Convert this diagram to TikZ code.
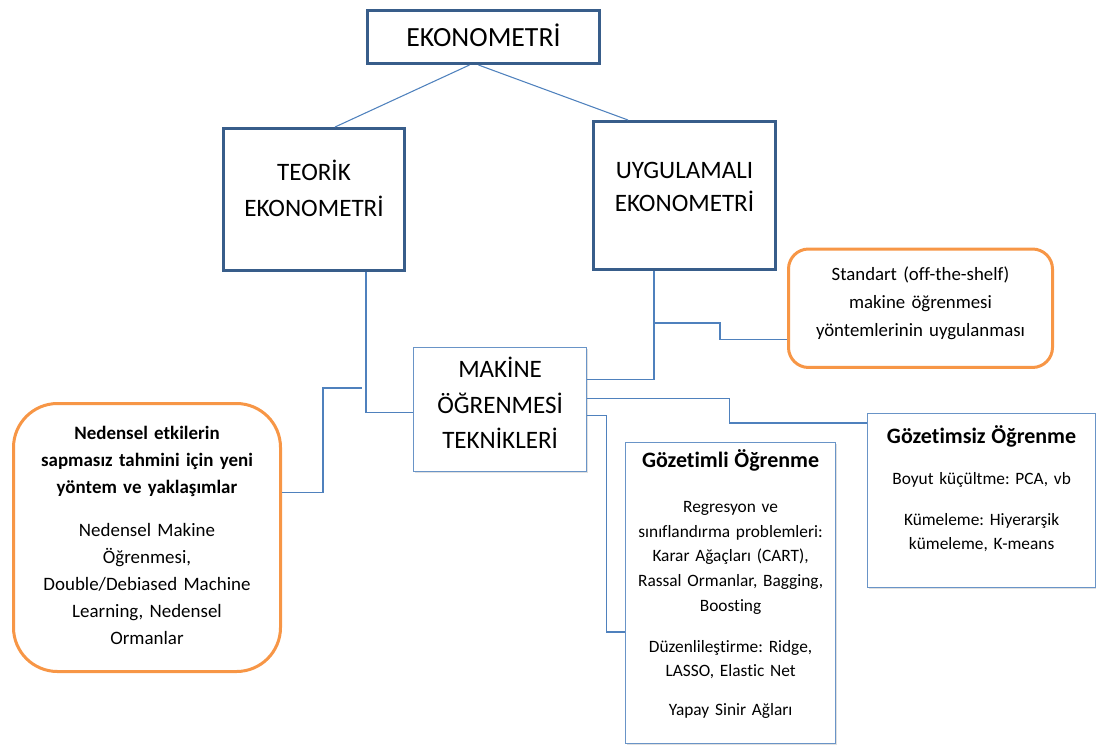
\documentclass[tikz,border=0pt]{standalone}
\usepackage{fontspec}
\setmainfont{Carlito}[Ligatures={TeX,NoCommon}]
\usetikzlibrary{calc,shadows}
\definecolor{koyumavi}{RGB}{56,93,138}
\definecolor{acikmavi}{RGB}{79,129,189}
\definecolor{turuncu}{RGB}{247,150,70}
\newcommand{\baslik}{\bfseries\fontsize{16.5}{20}\selectfont}
\frenchspacing

\begin{document}
\begin{tikzpicture}[
		x=0.75pt, y=-0.75pt,
		anakutu/.style={rectangle, draw=koyumavi, line width=2.25pt, fill=white,
				inner sep=0pt, align=center, anchor=north west},
		incekutu/.style={rectangle, draw=acikmavi!85, line width=0.9pt, fill=white,
				inner sep=0pt, align=center, anchor=north west,
				drop shadow={shadow xshift=1pt, shadow yshift=-1.2pt, fill=black!30, opacity=0.4}},
		notkutu/.style={rectangle, draw=turuncu, line width=2.25pt, fill=white,
				inner sep=0pt, align=center, anchor=north west},
		hat/.style={draw=acikmavi, line width=0.8pt},
		]
		\useasboundingbox (0,0) rectangle (1096,744);

		% Kutular
		\node[anakutu, text width=174pt, text height=27pt, text depth=12.75pt,
			font=\fontsize{20.8}{25}\selectfont] (ekon) at (366,9) {EKONOMETRİ};
		\node[anakutu, text width=135.75pt, text height=39pt, text depth=67.5pt,
			font=\fontsize{18.8}{27}\selectfont] (teorik) at (222,127) {TEORİK\\EKONOMETRİ};
		\node[anakutu, text width=136.5pt, text height=42.75pt, text depth=68.25pt,
			font=\fontsize{18.8}{24.75}\selectfont] (uyg) at (592,120) {UYGULAMALI\\EKONOMETRİ};
		\node[incekutu, text width=129.75pt, text height=22.5pt, text depth=70.5pt,
			font=\fontsize{18.8}{26.6}\selectfont] (makine) at (413,347) {MAKİNE\\ÖĞRENMESİ\\TEKNİKLERİ};
		\node[notkutu, rounded corners=15pt, text width=198pt, text height=23.6pt, text depth=65.25pt,
			font=\fontsize{14.1}{21}\selectfont] (standart) at (787,247.5)
			{Standart (off-the-shelf)\\makine öğrenmesi\\yöntemlerinin uygulanması};
		\node[notkutu, rounded corners=33pt, text width=200.25pt, text height=27pt, text depth=174pt,
			font=\fontsize{14.2}{20.25}\selectfont] (neden) at (12,402)
			{\textbf{Nedensel etkilerin}\\\textbf{sapmasız tahmini için yeni}\\\textbf{yöntem ve yaklaşımlar}\\[12pt]
			Nedensel Makine\\Öğrenmesi,\\Double/Debiased Machine\\Learning, Nedensel\\Ormanlar};
		\node[incekutu, text width=157.5pt, text height=18.75pt, text depth=207pt,
			font=\fontsize{13}{18.5}\selectfont] (gozli) at (625,442)
			{{\baslik Gözetimli Öğrenme}\\[15.25pt]
			Regresyon ve\\sınıflandırma problemleri:\\Karar Ağaçları (CART),\\Rassal Ormanlar, Bagging,\\Boosting\\[12.25pt]
			Düzenlileştirme: Ridge,\\LASSO, Elastic Net\\[10.75pt]
			Yapay Sinir Ağları};
		\node[incekutu, text width=171pt, text height=22.5pt, text depth=108pt,
			font=\fontsize{13}{18}\selectfont] (gozsiz) at (867,413)
			{{\baslik Gözetimsiz Öğrenme}\\[13pt]
			Boyut küçültme: PCA, vb\\[12.25pt]
			Kümeleme: Hiyerarşik\\kümeleme, K-means};

		% Baglantilar
		\draw[hat] ($(ekon.south)+(-14,0)$) -- ($(teorik.north west)+(113,0)$);
		\draw[hat] ($(ekon.south)+(-5,0)$) -- ($(uyg.north west)+(36,0)$);
		\draw[hat] ($(teorik.south east)+(-40,0)$) |- ($(makine.west)+(0,3)$);
		\draw[hat] ($(uyg.south west)+(62,0)$) |- ($(makine.east)+(0,-30)$);
		\coordinate (dal) at ($(uyg.south west)+(62,52)$);
		\draw[hat] (dal) -- ++(66,0) |- ($(standart.west)+(0,31)$);
		\draw[hat] ($(makine.east)+(0,-11)$) -- ++(142,0) |- ($(gozsiz.north west)+(0,10)$);
		\draw[hat] ($(makine.east)+(0,6)$) -- ++(19,0) |- ($(gozli.north west)+(0,190)$);
		\coordinate (ucu) at ($(teorik.south east)+(-44,116)$);
		\draw[hat] ($(neden.east)+(0,-45)$) -- ++(41,0) |- (ucu);
	\end{tikzpicture}
\end{document}
